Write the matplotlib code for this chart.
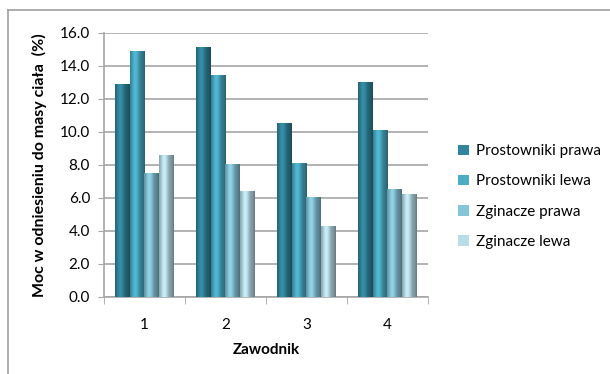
import numpy as np
import matplotlib
matplotlib.use("Agg")
import matplotlib.pyplot as plt
from matplotlib.colors import to_rgb
from matplotlib.lines import Line2D
from matplotlib.patches import Patch

plt.rcParams['font.family'] = ['Lato', 'DejaVu Sans']

# data: power relative to body mass for each athlete
zawodnicy = ['1', '2', '3', '4']
prostowniki_prawa = [12.9, 15.1, 10.5, 13.0]
prostowniki_lewa = [14.9, 13.4, 8.1, 10.1]
zginacze_prawa = [7.5, 8.0, 6.0, 6.5]
zginacze_lewa = [8.6, 6.4, 4.3, 6.2]
serie = ['Prostowniki prawa', 'Prostowniki lewa', 'Zginacze prawa', 'Zginacze lewa']
kolory = ['#31859c', '#4bacc6', '#86c4d8', '#b9dde8']

fig = plt.figure(figsize=(6.10, 3.74), dpi=100)
ax = fig.add_axes([0.1705, 0.206, 0.531, 0.706])

x = np.arange(1, len(zawodnicy) + 1)
szer = 0.18
dane = [prostowniki_prawa, prostowniki_lewa, zginacze_prawa, zginacze_lewa]

# cylinder-like shading across the bar width
prof = np.linspace(0, 1, 40)
shade = 0.66 + 0.42 * np.exp(-((prof - 0.35) / 0.28) ** 2)
shade[-4:] *= 0.87

for i, (vals, kol) in enumerate(zip(dane, kolory)):
    base = np.array(to_rgb(kol))
    img = np.clip(base[None, :] * shade[:, None], 0, 1)[None, :, :]
    pos = x + (i - 1.5) * szer
    bars = ax.bar(pos, vals, szer, color=kol, zorder=2)
    for b in bars:
        x0, w, h = b.get_x(), b.get_width(), b.get_height()
        ax.imshow(img, extent=[x0, x0 + w, 0, h], aspect='auto',
                  interpolation='bilinear', zorder=3)

ax.set_xlim(0.5, 4.5)
ax.set_ylim(0, 16)
ax.set_yticks(np.arange(0, 16.1, 2))
ax.set_yticklabels([f'{v:.1f}' for v in np.arange(0, 16.1, 2)], fontsize=11)
ax.yaxis.grid(True, color='#a6a6a6', linewidth=1.2, zorder=0)
ax.set_axisbelow(True)

ax.set_xticks(x)
ax.set_xticklabels(zawodnicy, fontsize=11)
ax.tick_params(axis='x', length=0, pad=15)
ax.set_xticks(np.arange(0.5, 4.6, 1), minor=True)
ax.tick_params(axis='x', which='minor', length=5, color='#a6a6a6', direction='out')
ax.tick_params(axis='y', length=4, color='#a6a6a6', pad=6)

for s in ['top', 'right']:
    ax.spines[s].set_visible(False)
for s in ['left', 'bottom']:
    ax.spines[s].set_color('#a6a6a6')
    ax.spines[s].set_linewidth(1.2)

ax.set_xlabel('Zawodnik', fontsize=11, fontweight='bold', labelpad=8)
ax.set_ylabel('Moc w odniesieniu do masy ciała  (%)', fontsize=11.5,
              fontweight='bold', labelpad=9)

uchwyty = [Patch(facecolor=k, edgecolor='none') for k in kolory]
fig.legend(uchwyty, serie, loc='center left', bbox_to_anchor=(0.728, 0.4746),
           frameon=False, fontsize=11, handlelength=0.7, handleheight=0.7,
           handletextpad=0.5, labelspacing=1.05)

# chart frame
fig.add_artist(Line2D([8 / 610, 8 / 610], [0, 1 - 10 / 374],
                      transform=fig.transFigure, color='#a0a0a0', linewidth=1.2))
fig.add_artist(Line2D([8 / 610, 1], [1 - 10 / 374, 1 - 10 / 374],
                      transform=fig.transFigure, color='#a0a0a0', linewidth=1.2))

fig.savefig('out.png', dpi=100)
